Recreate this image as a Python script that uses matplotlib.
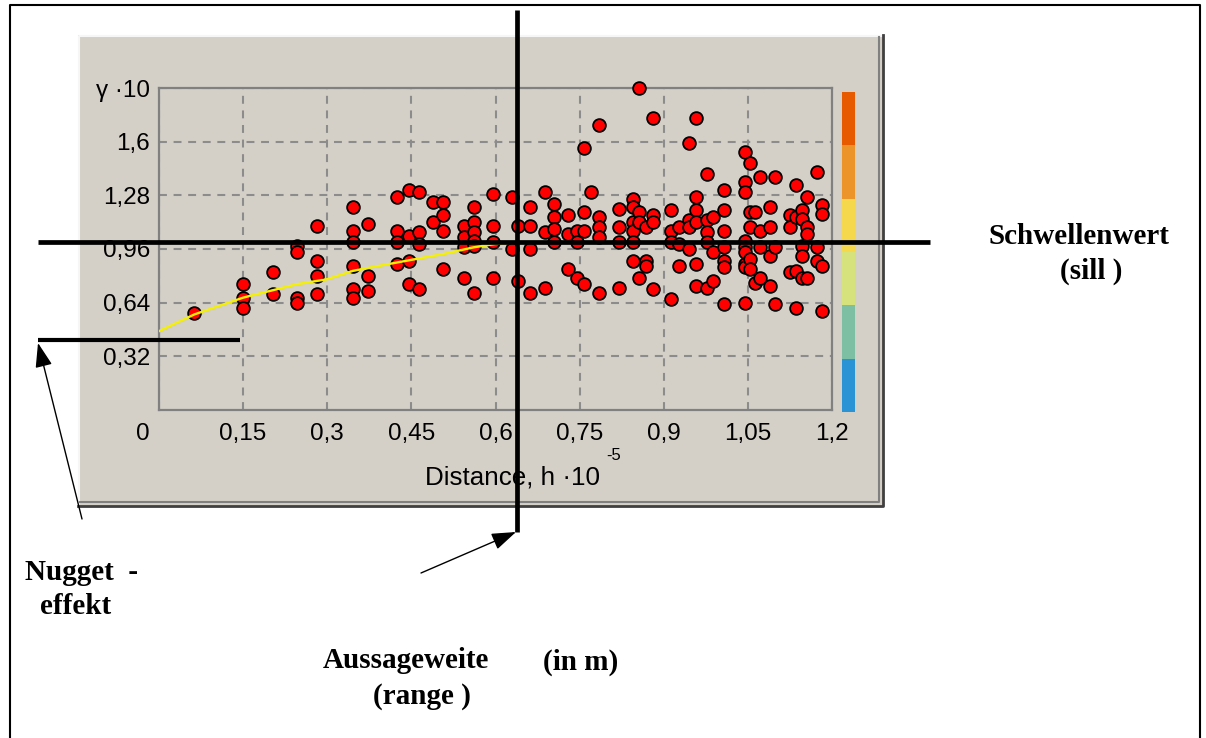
import matplotlib
matplotlib.use("Agg")
import matplotlib.pyplot as plt
from matplotlib.patches import Rectangle
from matplotlib import transforms

W, H = 1206, 738
PANEL = "#d4d0c8"
GRIDC = "#8c8c8c"
FRAME = "#808080"
INK = "#000000"

# --- experimental semivariogram cloud (h * 10^-5, gamma * 10) ---
lag = [0.063,
       0.150, 0.150, 0.150,
       0.204, 0.204,
       0.246, 0.246, 0.246, 0.246,
       0.282, 0.282, 0.282, 0.282,
       0.346, 0.346, 0.346, 0.346, 0.346, 0.346,
       0.373, 0.373, 0.373,
       0.425, 0.425, 0.425, 0.425,
       0.446, 0.446, 0.446, 0.446,
       0.464, 0.464, 0.464, 0.464,
       0.489, 0.489,
       0.507, 0.507, 0.507, 0.507,
       0.543, 0.543, 0.543, 0.543,
       0.561, 0.561, 0.561, 0.561, 0.561, 0.561,
       0.596, 0.596, 0.596, 0.596,
       0.629, 0.629,
       0.641, 0.641,
       0.661, 0.661, 0.661, 0.661,
       0.688, 0.688, 0.688,
       0.704, 0.704, 0.704, 0.704,
       0.730, 0.730, 0.730,
       0.745, 0.745, 0.745,
       0.757, 0.757, 0.757, 0.757,
       0.771,
       0.785, 0.785, 0.785, 0.785, 0.785,
       0.820, 0.820, 0.820, 0.820,
       0.845, 0.845, 0.845, 0.845, 0.845, 0.845,
       0.855, 0.855, 0.855, 0.855,
       0.868, 0.868, 0.868,
       0.881, 0.881, 0.881, 0.881,
       0.913, 0.913, 0.913, 0.913,
       0.927, 0.927, 0.927,
       0.945, 0.945, 0.945, 0.945,
       0.958, 0.958, 0.958, 0.958, 0.958, 0.958,
       0.978, 0.978, 0.978, 0.978, 0.978,
       0.987, 0.987, 0.987,
       1.007, 1.007, 1.007, 1.007, 1.007, 1.007, 1.007,
       1.045, 1.045, 1.045, 1.045, 1.045, 1.045, 1.045, 1.045, 1.045,
       1.054, 1.054, 1.054, 1.054, 1.054,
       1.062, 1.062,
       1.072, 1.072, 1.072, 1.072,
       1.090, 1.090, 1.090, 1.090,
       1.098, 1.098, 1.098,
       1.126, 1.126, 1.126,
       1.136, 1.136, 1.136, 1.136,
       1.146, 1.146, 1.146, 1.146, 1.146,
       1.155, 1.155, 1.155, 1.155,
       1.173, 1.173, 1.173,
       1.182, 1.182, 1.182, 1.182]
gamma = [0.58,
         0.75, 0.67, 0.61,
         0.82, 0.69,
         0.98, 0.94, 0.67, 0.64,
         1.10, 0.89, 0.80, 0.69,
         1.21, 1.07, 1.00, 0.86, 0.72, 0.67,
         1.11, 0.80, 0.71,
         1.27, 1.07, 1.00, 0.87,
         1.31, 1.04, 0.89, 0.75,
         1.30, 1.06, 0.99, 0.72,
         1.24, 1.12,
         1.24, 1.16, 1.07, 0.84,
         1.10, 1.03, 0.97, 0.79,
         1.21, 1.12, 1.06, 1.01, 0.98, 0.70,
         1.29, 1.10, 1.00, 0.79,
         1.27, 0.96,
         1.10, 0.77,
         1.21, 1.10, 0.96, 0.70,
         1.30, 1.06, 0.73,
         1.23, 1.15, 1.08, 1.00,
         1.16, 1.05, 0.84,
         1.07, 1.00, 0.79,
         1.56, 1.18, 1.07, 0.75,
         1.30,
         1.70, 1.15, 1.09, 1.03, 0.70,
         1.20, 1.09, 1.00, 0.73,
         1.26, 1.21, 1.12, 1.07, 1.00, 0.89,
         1.92, 1.18, 1.12, 0.79,
         1.09, 0.89, 0.86,
         1.74, 1.16, 1.12, 0.72,
         1.19, 1.07, 1.00, 0.66,
         1.09, 0.99, 0.86,
         1.59, 1.13, 1.09, 0.96,
         1.74, 1.27, 1.19, 1.12, 0.87, 0.74,
         1.41, 1.13, 1.06, 1.00, 0.73,
         1.15, 0.94, 0.77,
         1.31, 1.19, 1.07, 0.97, 0.89, 0.85, 0.63,
         1.54, 1.36, 1.30, 1.01, 0.97, 0.94, 0.87, 0.85, 0.64,
         1.47, 1.18, 1.09, 0.90, 0.84,
         1.18, 0.76,
         1.39, 1.07, 0.97, 0.79,
         1.21, 1.09, 0.92, 0.74,
         1.39, 0.97, 0.63,
         1.16, 1.09, 0.82,
         1.34, 1.15, 0.83, 0.61,
         1.19, 1.14, 0.98, 0.92, 0.79,
         1.27, 1.09, 1.05, 0.79,
         1.42, 0.97, 0.89,
         1.22, 1.17, 0.86, 0.59]

# fitted model (yellow curve)
model_h = [0.0, 0.063, 0.150, 0.246, 0.300, 0.346, 0.425, 0.507, 0.561, 0.600, 0.640, 1.200]
model_g = [0.47, 0.57, 0.67, 0.75, 0.78, 0.83, 0.88, 0.93, 0.97, 0.99, 1.00, 1.00]

x_ticks = [0, 0.15, 0.3, 0.45, 0.6, 0.75, 0.9, 1.05, 1.2]
x_labels = ["0", "0,15", "0,3", "0,45", "0,6", "0,75", "0,9", "1,05", "1,2"]
y_ticks = [0.32, 0.64, 0.96, 1.28, 1.6, 1.92]
y_labels = ["0,32", "0,64", "0,96", "1,28", "1,6", "\u03b3 \u00b710"]

# colour legend, top to bottom
legend_colors = ["#e85a00", "#ec942a", "#f5d84c", "#d6e37c", "#7cbfa2", "#2a93d6"]

SILL = 1.0      # gamma*10
RANGE = 0.638   # h*10^-5
NUGGET = 0.42   # gamma*10

CHART_FONT = "Liberation Sans"
TICK_SIZE = 17.5
NOTE_FONT = dict(family="Liberation Serif", weight="bold", size=21, color=INK)


def box(x0, y0, x1, y1):
    """pixel box (top-left origin) -> figure fraction rect"""
    return [x0 / W, 1 - y1 / H, (x1 - x0) / W, (y1 - y0) / H]


fig = plt.figure(figsize=(W / 100, H / 100), dpi=100)
fig.patch.set_facecolor("white")

# background layer: page border + grey window panel
bg = fig.add_axes([0, 0, 1, 1], zorder=0)
bg.set_xlim(0, W)
bg.set_ylim(H, 0)
bg.axis("off")
bg.plot([10, 10, 1200, 1200], [738, 5, 5, 738], color=INK, lw=1.5)
bg.add_patch(Rectangle((78, 35), 806, 472, facecolor=PANEL, edgecolor="none"))
bg.plot([79, 79, 884], [507, 36, 36], color="#f6f6f6", lw=1.5)
bg.plot([80, 879, 879], [502, 502, 37], color=FRAME, lw=1.5)
bg.plot([78, 883, 883], [506, 506, 35], color="#404040", lw=2)

# the chart itself
ax = fig.add_axes(box(159, 88, 832, 410), zorder=2)
ax.set_facecolor(PANEL)
ax.set_xlim(0, 1.2)
ax.set_ylim(0, 1.92)
ax.set_xticks(x_ticks)
ax.set_yticks(y_ticks)
ax.set_xticklabels([])
ax.set_yticklabels(y_labels, family=CHART_FONT, fontsize=TICK_SIZE, color=INK)
ax.tick_params(length=0)
ax.tick_params(axis="y", pad=6.5)
ax.grid(True, color=GRIDC, linestyle=(0, (3.8, 3.2)), linewidth=1.5)
ax.set_axisbelow(True)
for s in ax.spines.values():
    s.set_color(FRAME)
    s.set_linewidth(1.6)

for i, (t, lbl) in enumerate(zip(x_ticks, x_labels)):
    dx = -16 if i == 0 else 0
    ax.annotate(lbl, xy=(t, 0), xycoords=("data", "axes fraction"),
                xytext=(dx, -24), textcoords="offset pixels",
                ha="center", va="center", family=CHART_FONT, fontsize=TICK_SIZE, color=INK)

ax.scatter(lag, gamma, s=84, c="#ff0000", edgecolors=INK, linewidths=1.3,
           zorder=3, clip_on=False)
ax.plot(model_h, model_g, color="#f5f000", lw=1.7, zorder=4)

# colour scale bar
cb = fig.add_axes(box(842, 92, 855, 412), zorder=2)
for i, c in enumerate(legend_colors[::-1]):
    cb.bar(0, 1, bottom=i, width=1, color=c)
cb.set_xlim(-0.5, 0.5)
cb.set_ylim(0, len(legend_colors))
cb.axis("off")

# foreground annotation layer (pixel coordinates)
ov = fig.add_axes([0, 0, 1, 1], zorder=10)
ov.set_xlim(0, W)
ov.set_ylim(H, 0)
ov.axis("off")
ov.patch.set_alpha(0)

ov.text(425, 477, "Distance, h \u00b710", family=CHART_FONT, fontsize=18.7,
        ha="left", va="center", color=INK)
ov.text(606, 456, "-5", family=CHART_FONT, fontsize=12, ha="left", va="center", color=INK)

x_pix_y_data = transforms.blended_transform_factory(ov.transData, ax.transData)
x_data_y_pix = transforms.blended_transform_factory(ax.transData, ov.transData)
ov.plot([38, 930], [SILL, SILL], transform=x_pix_y_data, color=INK, lw=3.4,
        solid_capstyle="butt")
ov.plot([38, 240], [NUGGET, NUGGET], transform=x_pix_y_data, color=INK, lw=3.0,
        solid_capstyle="butt")
ov.plot([RANGE, RANGE], [10, 532], transform=x_data_y_pix, color=INK, lw=3.4,
        solid_capstyle="butt")

arrow = dict(arrowstyle="-|>,head_length=1.0,head_width=0.35", color=INK, lw=1.0,
             shrinkA=0, shrinkB=0, mutation_scale=15)
ov.annotate("", xy=(38, 343), xytext=(82, 519), arrowprops=arrow)
ov.annotate("", xy=(516, 532), xytext=(421, 573), arrowprops=arrow)

ov.text(988, 237, "Schwellenwert", ha="left", va="center", **NOTE_FONT)
ov.text(1060, 271, "(sill )", ha="left", va="center", **NOTE_FONT)
ov.text(25, 573, "Nugget  -", ha="left", va="center", **NOTE_FONT)
ov.text(40, 607, "effekt", ha="left", va="center", **NOTE_FONT)
ov.text(323, 661, "Aussageweite", ha="left", va="center", **NOTE_FONT)
ov.text(543, 662, "(in m)", ha="left", va="center", **NOTE_FONT)
ov.text(373, 697, "(range )", ha="left", va="center", **NOTE_FONT)

fig.savefig("out.png", dpi=100)
